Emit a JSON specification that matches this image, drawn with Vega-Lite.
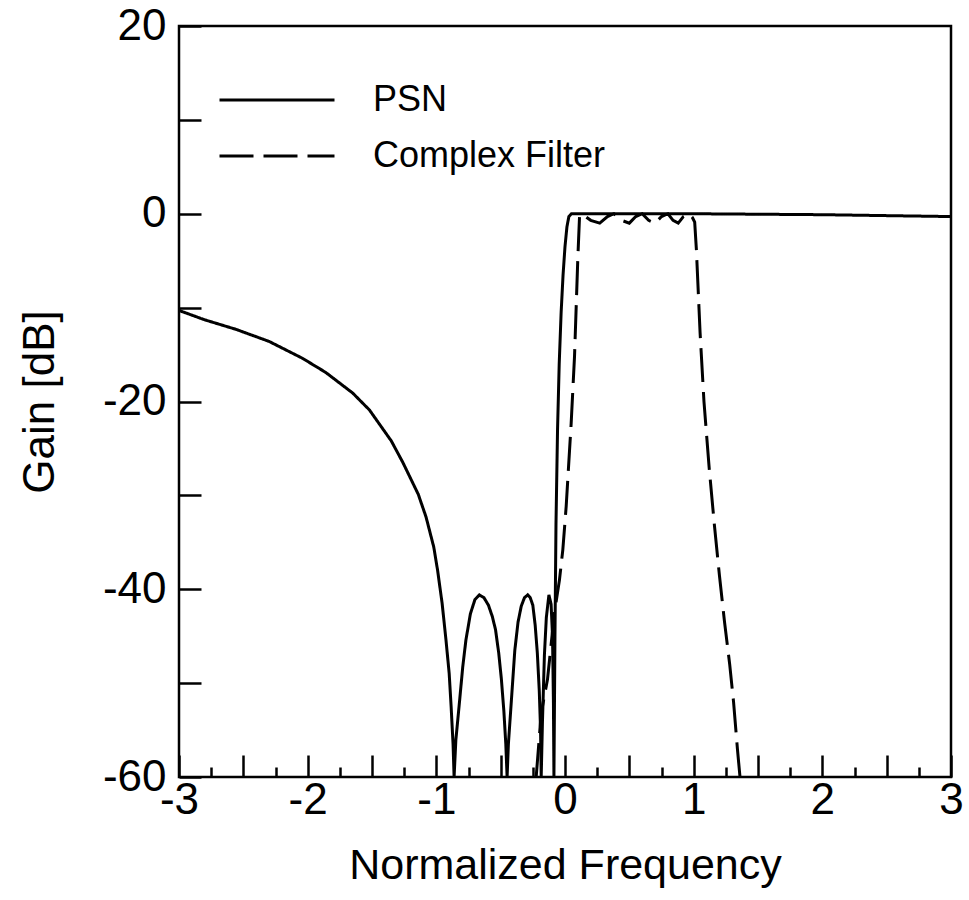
{
  "$schema": "https://vega.github.io/schema/vega-lite/v6.json",
  "width": 772,
  "height": 751,
  "autosize": "none",
  "padding": {"left": 179, "top": 26, "right": 18, "bottom": 123},
  "background": "white",
  "config": {
    "view": {"stroke": "black", "strokeWidth": 2.5},
    "font": "Liberation Sans",
    "axis": {"labelFont": "Liberation Sans", "titleFont": "Liberation Sans", "labelColor": "black", "titleColor": "black", "titleFontWeight": "normal", "tickColor": "black", "tickWidth": 2.5, "domain": false, "grid": false}
  },
  "data": {"values": [
    {"series": "PSN", "f": -3.0, "g": -10.3},
    {"series": "PSN", "f": -2.8, "g": -11.3},
    {"series": "PSN", "f": -2.56, "g": -12.3},
    {"series": "PSN", "f": -2.3, "g": -13.6},
    {"series": "PSN", "f": -2.04, "g": -15.4},
    {"series": "PSN", "f": -1.86, "g": -16.9},
    {"series": "PSN", "f": -1.65, "g": -19.1},
    {"series": "PSN", "f": -1.52, "g": -20.9},
    {"series": "PSN", "f": -1.35, "g": -24.2},
    {"series": "PSN", "f": -1.26, "g": -26.5},
    {"series": "PSN", "f": -1.14, "g": -29.9},
    {"series": "PSN", "f": -1.08, "g": -32.3},
    {"series": "PSN", "f": -1.02, "g": -35.5},
    {"series": "PSN", "f": -0.99, "g": -38.0},
    {"series": "PSN", "f": -0.955, "g": -41.5},
    {"series": "PSN", "f": -0.925, "g": -45.4},
    {"series": "PSN", "f": -0.9, "g": -49.0},
    {"series": "PSN", "f": -0.885, "g": -52.5},
    {"series": "PSN", "f": -0.87, "g": -56.5},
    {"series": "PSN", "f": -0.862, "g": -60},
    {"series": "PSN", "f": -0.848, "g": -56.0},
    {"series": "PSN", "f": -0.82, "g": -52.0},
    {"series": "PSN", "f": -0.795, "g": -48.3},
    {"series": "PSN", "f": -0.77, "g": -45.4},
    {"series": "PSN", "f": -0.735, "g": -42.6},
    {"series": "PSN", "f": -0.7, "g": -41.1},
    {"series": "PSN", "f": -0.665, "g": -40.6},
    {"series": "PSN", "f": -0.63, "g": -40.9},
    {"series": "PSN", "f": -0.595, "g": -41.7},
    {"series": "PSN", "f": -0.565, "g": -42.9},
    {"series": "PSN", "f": -0.54, "g": -44.3},
    {"series": "PSN", "f": -0.515, "g": -46.8},
    {"series": "PSN", "f": -0.495, "g": -49.5},
    {"series": "PSN", "f": -0.475, "g": -53.0},
    {"series": "PSN", "f": -0.46, "g": -56.5},
    {"series": "PSN", "f": -0.45, "g": -60},
    {"series": "PSN", "f": -0.44, "g": -56.5},
    {"series": "PSN", "f": -0.415, "g": -51.5},
    {"series": "PSN", "f": -0.39, "g": -46.5},
    {"series": "PSN", "f": -0.365, "g": -43.5},
    {"series": "PSN", "f": -0.34, "g": -41.8},
    {"series": "PSN", "f": -0.315, "g": -40.9},
    {"series": "PSN", "f": -0.29, "g": -40.6},
    {"series": "PSN", "f": -0.27, "g": -40.9},
    {"series": "PSN", "f": -0.25, "g": -41.7},
    {"series": "PSN", "f": -0.232, "g": -43.8},
    {"series": "PSN", "f": -0.215, "g": -46.8},
    {"series": "PSN", "f": -0.2, "g": -50.8},
    {"series": "PSN", "f": -0.19, "g": -55.0},
    {"series": "PSN", "f": -0.185, "g": -60},
    {"series": "PSN", "f": -0.175, "g": -54.0},
    {"series": "PSN", "f": -0.16, "g": -47.0},
    {"series": "PSN", "f": -0.145, "g": -43.0},
    {"series": "PSN", "f": -0.125, "g": -40.6},
    {"series": "PSN", "f": -0.108, "g": -41.6},
    {"series": "PSN", "f": -0.097, "g": -45.0},
    {"series": "PSN", "f": -0.09, "g": -52.0},
    {"series": "PSN", "f": -0.086, "g": -60},
    {"series": "PSN", "f": -0.078, "g": -45.0},
    {"series": "PSN", "f": -0.07, "g": -33.0},
    {"series": "PSN", "f": -0.058, "g": -23.0},
    {"series": "PSN", "f": -0.045, "g": -16.0},
    {"series": "PSN", "f": -0.03, "g": -10.5},
    {"series": "PSN", "f": -0.015, "g": -6.5},
    {"series": "PSN", "f": 0.0, "g": -3.5},
    {"series": "PSN", "f": 0.015, "g": -1.4},
    {"series": "PSN", "f": 0.03, "g": -0.3},
    {"series": "PSN", "f": 0.05, "g": 0},
    {"series": "PSN", "f": 1.0, "g": 0},
    {"series": "PSN", "f": 2.0, "g": -0.1},
    {"series": "PSN", "f": 3.0, "g": -0.3},
    {"series": "Complex Filter", "f": -0.224, "g": -60},
    {"series": "Complex Filter", "f": -0.185, "g": -53.2},
    {"series": "Complex Filter", "f": -0.136, "g": -49.6},
    {"series": "Complex Filter", "f": -0.082, "g": -42.5},
    {"series": "Complex Filter", "f": -0.043, "g": -39.0},
    {"series": "Complex Filter", "f": -0.017, "g": -35.8},
    {"series": "Complex Filter", "f": 0.009, "g": -31.2},
    {"series": "Complex Filter", "f": 0.048, "g": -22.3},
    {"series": "Complex Filter", "f": 0.074, "g": -15.2},
    {"series": "Complex Filter", "f": 0.1, "g": -4.6},
    {"series": "Complex Filter", "f": 0.113, "g": -0.3},
    {"series": "Complex Filter", "f": 0.13, "g": 0},
    {"series": "Complex Filter", "f": 0.2, "g": -0.7},
    {"series": "Complex Filter", "f": 0.27, "g": -1.0},
    {"series": "Complex Filter", "f": 0.33, "g": -0.3},
    {"series": "Complex Filter", "f": 0.38, "g": 0},
    {"series": "Complex Filter", "f": 0.44, "g": -0.7},
    {"series": "Complex Filter", "f": 0.5, "g": -1.0},
    {"series": "Complex Filter", "f": 0.55, "g": -0.3},
    {"series": "Complex Filter", "f": 0.6, "g": 0},
    {"series": "Complex Filter", "f": 0.65, "g": -0.7},
    {"series": "Complex Filter", "f": 0.7, "g": -1.0},
    {"series": "Complex Filter", "f": 0.75, "g": -0.3},
    {"series": "Complex Filter", "f": 0.8, "g": 0},
    {"series": "Complex Filter", "f": 0.84, "g": -0.7},
    {"series": "Complex Filter", "f": 0.88, "g": -1.0},
    {"series": "Complex Filter", "f": 0.92, "g": -0.3},
    {"series": "Complex Filter", "f": 0.96, "g": 0},
    {"series": "Complex Filter", "f": 0.99, "g": -0.4},
    {"series": "Complex Filter", "f": 1.008, "g": -0.9},
    {"series": "Complex Filter", "f": 1.021, "g": -3.8},
    {"series": "Complex Filter", "f": 1.05, "g": -12.7},
    {"series": "Complex Filter", "f": 1.08, "g": -20.0},
    {"series": "Complex Filter", "f": 1.12, "g": -27.0},
    {"series": "Complex Filter", "f": 1.16, "g": -33.0},
    {"series": "Complex Filter", "f": 1.2, "g": -38.5},
    {"series": "Complex Filter", "f": 1.24, "g": -43.5},
    {"series": "Complex Filter", "f": 1.28, "g": -48.0},
    {"series": "Complex Filter", "f": 1.31, "g": -52.0},
    {"series": "Complex Filter", "f": 1.34, "g": -57.0},
    {"series": "Complex Filter", "f": 1.36, "g": -60}
  ]},
  "mark": {"type": "line", "color": "black", "strokeWidth": 3, "clip": true},
  "encoding": {
    "x": {
      "field": "f", "type": "quantitative",
      "scale": {"domain": [-3, 3], "nice": false, "zero": false},
      "axis": {
        "values": [-3, -2.75, -2.5, -2.25, -2, -1.75, -1.5, -1.25, -1, -0.75, -0.5, -0.25, 0, 0.25, 0.5, 0.75, 1, 1.25, 1.5, 1.75, 2, 2.25, 2.5, 2.75, 3],
        "tickSize": {"condition": {"test": "datum.value % 0.5 === 0", "value": -22}, "value": -10},
        "labelExpr": "datum.value % 1 === 0 ? '' + datum.value : ''",
        "labelFontSize": 44,
        "labelPadding": 23,
        "labelFlush": false,
        "labelOverlap": false,
        "title": "Normalized Frequency",
        "titleFontSize": 43,
        "titlePadding": 10
      }
    },
    "y": {
      "field": "g", "type": "quantitative",
      "scale": {"domain": [-60, 20], "nice": false, "zero": false},
      "axis": {
        "values": [-60, -50, -40, -30, -20, -10, 0, 10, 20],
        "tickSize": -22,
        "labelExpr": "datum.value % 20 === 0 ? '' + datum.value : ''",
        "labelFontSize": 44,
        "labelPadding": 35,
        "labelFlush": false,
        "labelOverlap": false,
        "title": "Gain [dB]",
        "titleFontSize": 44,
        "titlePadding": 40
      }
    },
    "strokeDash": {
      "field": "series", "type": "nominal",
      "scale": {"domain": ["PSN", "Complex Filter"], "range": [[1, 0], [34, 10]]},
      "legend": {
        "title": null,
        "orient": "none",
        "legendX": 39,
        "legendY": 54,
        "padding": 0,
        "symbolType": "stroke",
        "symbolSize": 13225,
        "symbolStrokeWidth": 3,
        "symbolStrokeColor": "black",
        "clipHeight": 40,
        "rowPadding": 16,
        "labelFontSize": 36,
        "labelFont": "Liberation Sans",
        "labelColor": "black",
        "labelOffset": 37,
        "labelLimit": 400
      }
    }
  }
}
